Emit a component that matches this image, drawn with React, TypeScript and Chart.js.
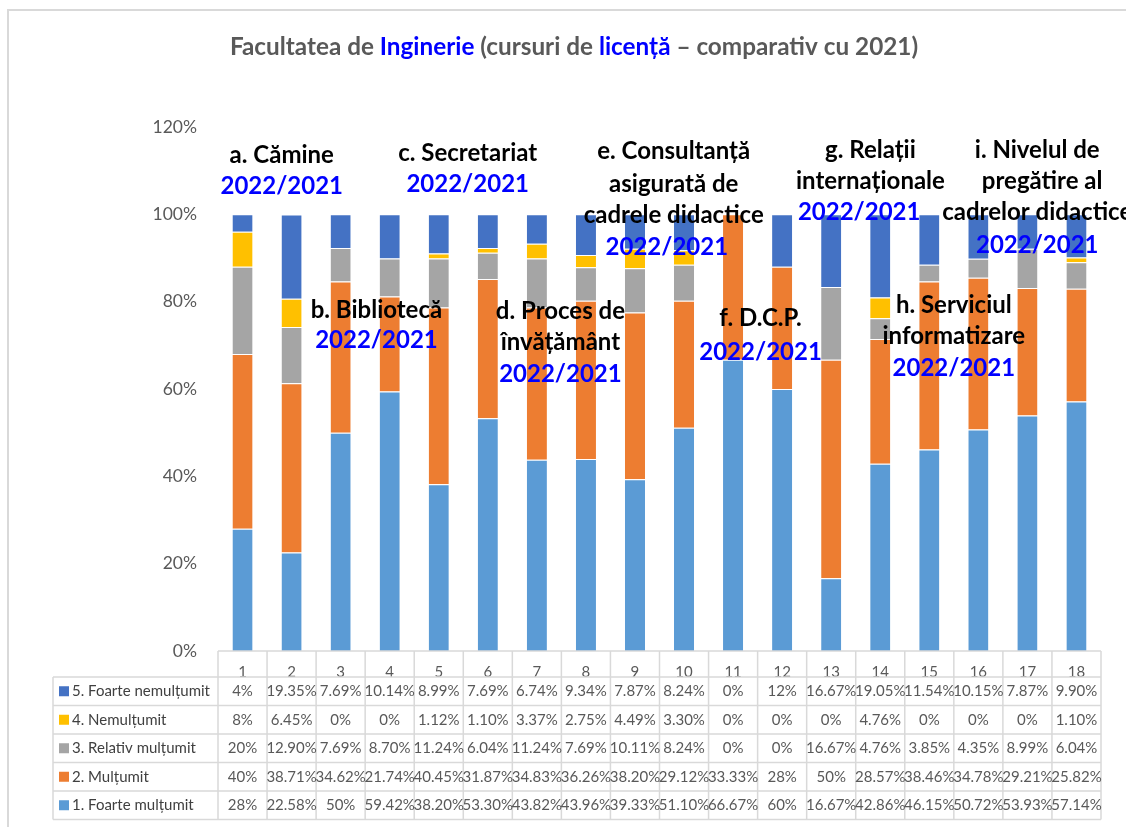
import React, { useEffect, useRef } from "react";
import { Chart, registerables } from "chart.js";

Chart.register(...registerables);

const categories = ["1", "2", "3", "4", "5", "6", "7", "8", "9", "10", "11", "12", "13", "14", "15", "16", "17", "18"];
const foarteMultumit = [28, 22.58, 50, 59.42, 38.2, 53.3, 43.82, 43.96, 39.33, 51.1, 66.67, 60, 16.67, 42.86, 46.15, 50.72, 53.93, 57.14];
const multumit = [40, 38.71, 34.62, 21.74, 40.45, 31.87, 34.83, 36.26, 38.2, 29.12, 33.33, 28, 50, 28.57, 38.46, 34.78, 29.21, 25.82];
const relativMultumit = [20, 12.9, 7.69, 8.7, 11.24, 6.04, 11.24, 7.69, 10.11, 8.24, 0, 0, 16.67, 4.76, 3.85, 4.35, 8.99, 6.04];
const nemultumit = [8, 6.45, 0, 0, 1.12, 1.1, 3.37, 2.75, 4.49, 3.3, 0, 0, 0, 4.76, 0, 0, 0, 1.1];
const foarteNemultumit = [4, 19.35, 7.69, 10.14, 8.99, 7.69, 6.74, 9.34, 7.87, 8.24, 0, 12, 16.67, 19.05, 11.54, 10.15, 7.87, 9.9];
const yTicks = [0, 20, 40, 60, 80, 100, 120];

const seriesNames = ["1. Foarte mulțumit", "2. Mulțumit", "3. Relativ mulțumit", "4. Nemulțumit", "5. Foarte nemulțumit"];
const seriesColors = ["#5B9BD5", "#ED7D31", "#A5A5A5", "#FFC000", "#4472C4"];
const seriesData = [foarteMultumit, multumit, relativMultumit, nemultumit, foarteNemultumit];

// annotations: [category position (index), y value %, text, blue?]
const annotations: [number, number, string, boolean][] = [
  [0.8, 113.5, "a. Cămine", false],
  [0.8, 106.4, "2022/2021", true],
  [2.73, 78.0, "b. Bibliotecă", false],
  [2.73, 71.2, "2022/2021", true],
  [4.59, 114.0, "c. Secretariat", false],
  [4.59, 106.9, "2022/2021", true],
  [6.48, 77.8, "d. Proces de", false],
  [6.48, 70.7, "învățământ", false],
  [6.48, 63.4, "2022/2021", true],
  [8.79, 114.4, "e. Consultanță", false],
  [8.79, 106.9, "asigurată de", false],
  [8.79, 99.8, "cadrele didactice", false],
  [8.65, 92.4, "2022/2021", true],
  [10.56, 76.2, "f. D.C.P.", false],
  [10.56, 68.4, "2022/2021", true],
  [12.8, 114.6, "g. Relații", false],
  [12.8, 107.6, "internaționale", false],
  [12.57, 100.5, "2022/2021", true],
  [14.5, 79.2, "h. Serviciul", false],
  [14.5, 72.1, "informatizare", false],
  [14.5, 64.8, "2022/2021", true],
  [16.2, 114.6, "i. Nivelul de", false],
  [16.3, 107.6, "pregătire al", false],
  [16.2, 100.5, "cadrelor didactice", false],
  [16.2, 92.9, "2022/2021", true],
];

const FONT = "Lato, 'Open Sans', sans-serif";

function fmt(v: number): string {
  return (Number.isInteger(v) ? String(v) : v.toFixed(2)) + "%";
}

const overlayPlugin = {
  id: "overlay",
  afterDraw(chart: any) {
    const ctx = chart.ctx as CanvasRenderingContext2D;
    const xs = chart.scales.x;
    const ys = chart.scales.y;
    const area = chart.chartArea;
    const n = categories.length;
    const colW = (area.right - area.left) / n;

    ctx.save();
    // outer frame
    ctx.strokeStyle = "#d9d9d9";
    ctx.lineWidth = 2;
    ctx.beginPath();
    ctx.moveTo(8, 827);
    ctx.lineTo(8, 10);
    ctx.lineTo(1126, 10);
    ctx.stroke();

    // title
    ctx.font = `bold 24.3px ${FONT}`;
    ctx.textBaseline = "middle";
    const parts: [string, string][] = [
      ["Facultatea de ", "#595959"],
      ["Inginerie", "#0000FF"],
      [" (cursuri de ", "#595959"],
      ["licență", "#0000FF"],
      [" – comparativ cu 2021)", "#595959"],
    ];
    const total = parts.reduce((s, p) => s + ctx.measureText(p[0]).width, 0);
    let tx = 574 - total / 2;
    ctx.textAlign = "left";
    for (const [t, c] of parts) {
      ctx.fillStyle = c;
      ctx.fillText(t, tx, 47);
      tx += ctx.measureText(t).width;
    }

    // data table
    const rowTop = area.bottom;
    const headerH = 26;
    const rowH = 28.5;
    const tableLeft = 53;
    const rowsY: number[] = [];
    for (let r = 0; r <= 5; r++) rowsY.push(rowTop + headerH + r * rowH);

    ctx.strokeStyle = "#d9d9d9";
    ctx.lineWidth = 1.5;
    ctx.beginPath();
    ctx.moveTo(area.left, rowTop);
    ctx.lineTo(area.right, rowTop);
    for (const y of rowsY) {
      ctx.moveTo(tableLeft, y);
      ctx.lineTo(area.right, y);
    }
    for (let i = 0; i <= n; i++) {
      const x = area.left + i * colW;
      ctx.moveTo(x, rowTop);
      ctx.lineTo(x, rowsY[5]);
    }
    ctx.moveTo(tableLeft, rowsY[0]);
    ctx.lineTo(tableLeft, rowsY[5]);
    ctx.stroke();

    // rows: 5 at top down to 1
    for (let r = 0; r < 5; r++) {
      const si = 4 - r;
      const cy = (rowsY[r] + rowsY[r + 1]) / 2;
      ctx.fillStyle = seriesColors[si];
      ctx.fillRect(tableLeft + 6, cy - 5, 10, 10);
      ctx.fillStyle = "#404040";
      ctx.font = `15px ${FONT}`;
      ctx.textAlign = "left";
      ctx.fillText(seriesNames[si], tableLeft + 19, cy);
      ctx.font = `15px ${FONT}`;
      ctx.textAlign = "center";
      ctx.fillStyle = "#595959";
      const vals = seriesData[si];
      for (let i = 0; i < n; i++) {
        ctx.fillText(fmt(vals[i]), xs.getPixelForValue(i), cy);
      }
    }

    // annotations
    ctx.font = `bold 24px ${FONT}`;
    ctx.textAlign = "center";
    for (const [pos, val, text, blue] of annotations) {
      const x = xs.getPixelForValue(0) + pos * colW;
      const y = ys.getPixelForValue(val);
      ctx.fillStyle = blue ? "#0000FF" : "#000000";
      ctx.fillText(text, x, y);
    }
    ctx.restore();
  },
};

export default function App() {
  const ref = useRef<HTMLCanvasElement>(null);
  useEffect(() => {
    if (!ref.current) return;
    const chart = new Chart(ref.current, {
      type: "bar",
      data: {
        labels: categories,
        datasets: seriesData.map((d, i) => ({
          label: seriesNames[i],
          data: d,
          backgroundColor: seriesColors[i],
          borderColor: "#ffffff",
          borderWidth: { top: 1, bottom: 0, left: 0, right: 0 },
          barPercentage: 1,
          categoryPercentage: 0.41,
        })),
      },
      options: {
        animation: false,
        responsive: false,
        maintainAspectRatio: false,
        layout: { padding: { top: 127, right: 25, left: 0, bottom: 0 } },
        plugins: {
          legend: { display: false },
          title: { display: false },
          tooltip: { enabled: false },
        },
        scales: {
          x: {
            stacked: true,
            grid: { display: false },
            border: { display: false },
            ticks: { color: "#595959", font: { family: FONT, size: 15 }, padding: 4 },
            afterFit: (s: any) => {
              s.height = 176;
            },
          },
          y: {
            stacked: true,
            min: 0,
            max: 120,
            afterBuildTicks: (s: any) => {
              s.ticks = yTicks.map((v) => ({ value: v }));
            },
            grid: { display: false, drawTicks: false },
            border: { display: false },
            ticks: {
              color: "#595959",
              font: { family: FONT, size: 17.5 },
              padding: 21,
              callback: (v: any) => v + "%",
            },
            afterFit: (s: any) => {
              s.width = 218;
            },
          },
        },
      },
      plugins: [overlayPlugin],
    });
    return () => chart.destroy();
  }, []);
  return (
    <div style={{ position: "fixed", left: 0, top: 0, width: 1126, height: 827, background: "#fff" }}>
      <canvas ref={ref} width={1126} height={827} style={{ width: 1126, height: 827 }} />
    </div>
  );
}
